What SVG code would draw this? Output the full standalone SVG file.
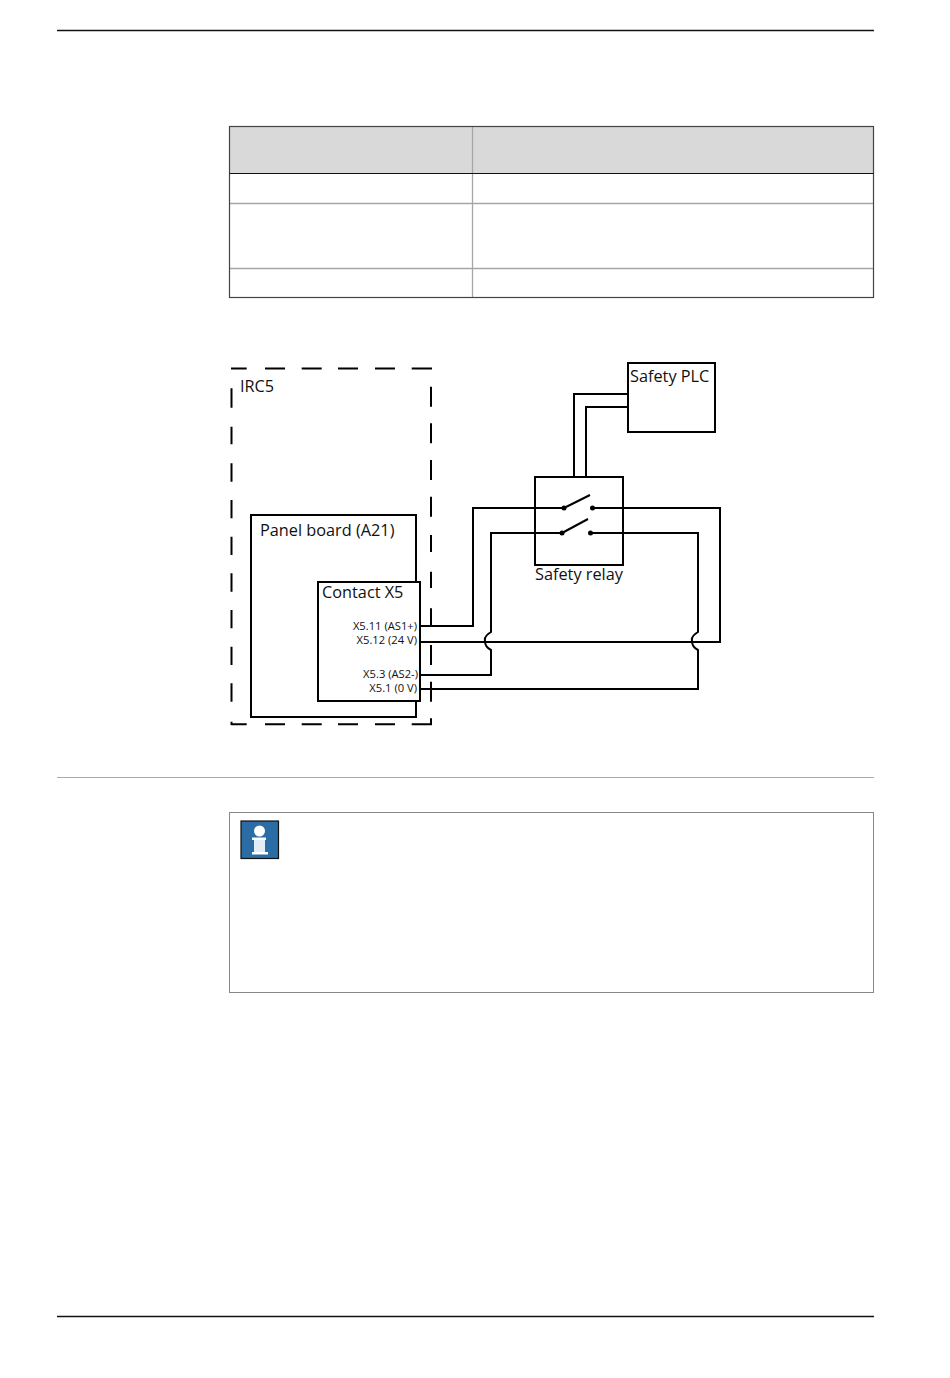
<svg xmlns="http://www.w3.org/2000/svg" width="950" height="1378" viewBox="0 0 950 1378">
<style>
.w{fill:none;stroke:#000;stroke-width:2}
.box{fill:none;stroke:#000;stroke-width:2}
.t{font-family:"Open Sans","Noto Sans",sans-serif;fill:#111}
.l{font-size:16.3px}
.s{font-size:11.2px;text-anchor:end}
.g{stroke:#a6a6a6;stroke-width:1.3;fill:none}
</style>
<rect width="950" height="1378" fill="#fff"/>
<g id="page-rules">
<line x1="57" y1="30.5" x2="874" y2="30.5" stroke="#111" stroke-width="1.6"/>
<line x1="57" y1="777.5" x2="874" y2="777.5" stroke="#aaa" stroke-width="1"/>
<line x1="57" y1="1316.5" x2="874" y2="1316.5" stroke="#111" stroke-width="1.6"/>
</g>
<g id="table">
<rect x="229.5" y="126.5" width="644" height="47" fill="#d9d9d9"/>
<line class="g" x1="472.500" y1="126.500" x2="472.500" y2="297.500"/>
<line class="g" x1="229.500" y1="203.500" x2="873.500" y2="203.500"/>
<line class="g" x1="229.500" y1="268.500" x2="873.500" y2="268.500"/>
<rect x="229.500" y="126.500" width="644" height="171" fill="none" stroke="#444" stroke-width="1.200"/>
<line x1="229.500" y1="173.500" x2="873.500" y2="173.500" stroke="#111" stroke-width="1.200"/>
</g>
<g id="irc5">
<path class="w" d="M231 368.500H246.700M265 368.500H285M301.700 368.500H321.700M338 368.500H358M375 368.500H395M411.700 368.500H432
M231.500 388.300V407.700M231.500 426.700V444.300M231.500 463.300V481.700M231.500 500V518.300M231.500 536.700V555M231.500 573.300V591.700M231.500 610V628.300M231.500 646.700V665M231.500 683.300V701.700M231.500 721.700V725
M431 367.500V369.500M431 386.700V406.700M431 423.300V443.300M431 460V480M431 496.700V516.700M431 535V552M431 571.700V588M431 608.300V626.700M431 645V665M431 681.700V701.700M431 718.300V725
M231 724.300H246.700M265 724.300H285M301.700 724.300H321.700M338 724.300H358M375 724.300H395M411.700 724.300H432"/>
<text class="t l" x="240" y="392">IRC5</text>
</g>
<g id="panel-board">
<rect class="box" x="251" y="515" width="165" height="202"/>
<text class="t l" x="260" y="536">Panel board (A21)</text>
</g>
<g id="contact-x5">
<rect x="318" y="582" width="102" height="119" fill="#fff" stroke="#000" stroke-width="2"/>
<text class="t l" x="322" y="598">Contact X5</text>
<text class="t s" x="417" y="630">X5.11 (AS1+)</text>
<text class="t s" x="417" y="644">X5.12 (24 V)</text>
<text class="t s" x="418" y="678">X5.3 (AS2-)</text>
<text class="t s" x="417" y="692">X5.1 (0 V)</text>
</g>
<g id="safety-plc">
<rect class="box" x="628" y="363" width="87" height="69"/>
<text class="t l" x="630" y="382">Safety PLC</text>
</g>
<g id="safety-relay">
<rect class="box" x="535" y="477" width="88" height="88"/>
<text class="t l" x="535" y="580">Safety relay</text>
<circle cx="564" cy="508" r="2.500"/><circle cx="592.500" cy="508" r="2.500"/>
<circle cx="562" cy="533" r="2.500"/><circle cx="590.500" cy="533" r="2.500"/>
<line class="w" x1="564" y1="508" x2="590" y2="495"/>
<line class="w" x1="562" y1="533" x2="588" y2="519"/>
</g>
<g id="connectors">
<path class="w" d="M420 626H473V508H564"/>
<path class="w" d="M592 508H720V642H420"/>
<path class="w" d="M562 533H491V632Q484 636 485 641Q485 647 491 650V675H420"/>
<path class="w" d="M590 533H698V632Q691 636 692 641Q692 647 698 650V689H420"/>
<path class="w" d="M574 477V394H628"/>
<path class="w" d="M586 477V407H628"/>
</g>
<g id="note">
<rect x="229.500" y="812.500" width="644" height="180" fill="none" stroke="#888" stroke-width="1"/>
<rect x="241" y="821" width="37.500" height="37.500" fill="#2a6ca3" stroke="#111" stroke-width="1.200"/>
<circle cx="259.500" cy="831" r="5.500" fill="#fff"/>
<rect x="252" y="837.500" width="14" height="2.500" fill="#fff"/>
<rect x="254" y="840" width="11" height="12" fill="#e4edf5"/>
<rect x="252" y="852" width="16" height="2.500" fill="#fff"/>
</g>
</svg>
